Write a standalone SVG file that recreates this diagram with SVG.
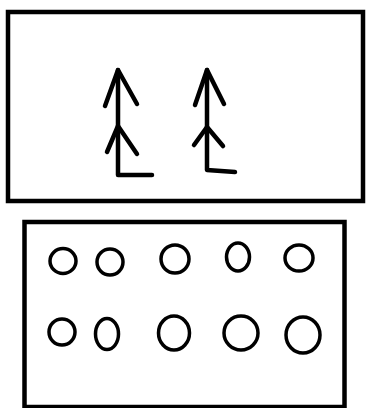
<svg xmlns="http://www.w3.org/2000/svg" width="366" height="408" viewBox="0 0 366 408">
<style>
.frame{fill:#fff;stroke:#000;stroke-width:4.5}
.arr{fill:none;stroke:#000;stroke-width:4.5;stroke-linecap:round;stroke-linejoin:round}
.c{fill:none;stroke:#000;stroke-width:3.5}
</style>
<rect width="366" height="408" fill="#fff"/>
<g id="top-panel">
<rect class="frame" x="8" y="12" width="355" height="189"/>
<g id="arrow-left">
<path class="arr" d="M118,70 V175 H152"/>
<path class="arr" d="M105,106 L118,70 L137,104"/>
<path class="arr" d="M107,152 L118,126 L137,154"/>
</g>
<g id="arrow-right">
<path class="arr" d="M207,70 V170 L235,172"/>
<path class="arr" d="M195,105 L207,70 L224,104"/>
<path class="arr" d="M194,145 L207,127 L223,146"/>
</g>
</g>
<g id="bottom-panel">
<rect class="frame" x="24.5" y="222" width="320" height="185"/>
<g id="circles">
<ellipse class="c" cx="63" cy="261" rx="13" ry="12.5"/>
<ellipse class="c" cx="110" cy="262" rx="13" ry="13"/>
<ellipse class="c" cx="175" cy="259" rx="14" ry="14"/>
<ellipse class="c" cx="238" cy="257" rx="11.5" ry="14"/>
<ellipse class="c" cx="299" cy="258" rx="14" ry="13"/>
<ellipse class="c" cx="62" cy="332" rx="13" ry="13"/>
<ellipse class="c" cx="107" cy="334" rx="11.5" ry="15.5"/>
<ellipse class="c" cx="174" cy="333" rx="15.5" ry="17"/>
<ellipse class="c" cx="241" cy="333" rx="17" ry="17"/>
<ellipse class="c" cx="303" cy="335" rx="17" ry="18"/>
</g>
</g>
</svg>
